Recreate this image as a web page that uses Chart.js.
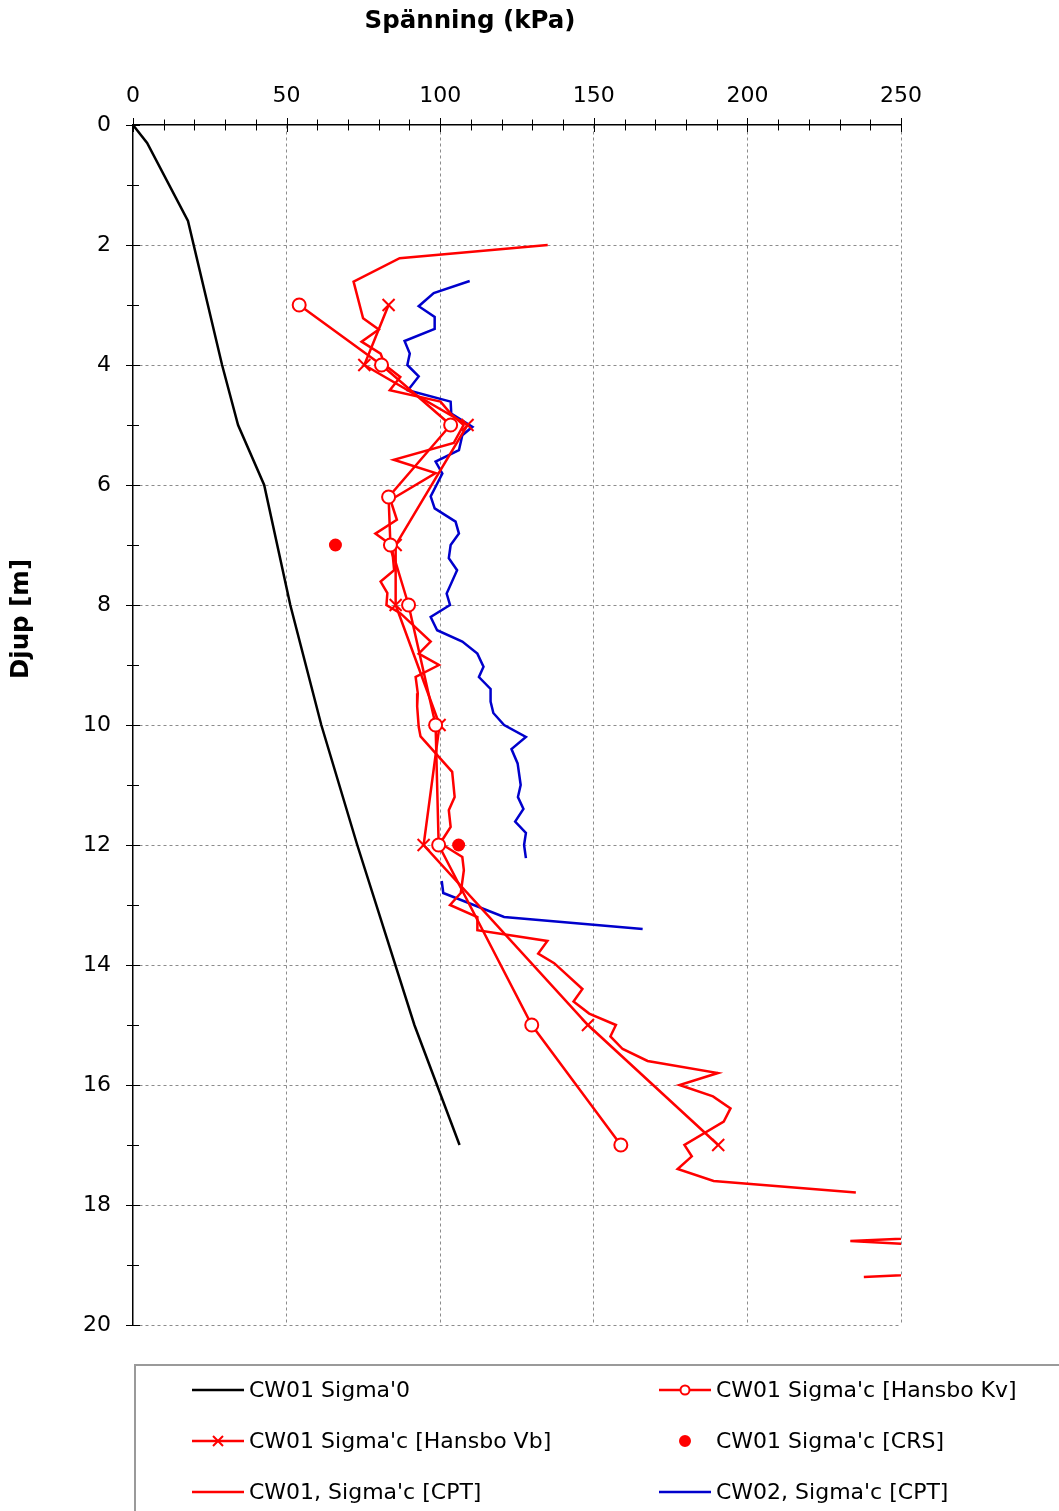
<!DOCTYPE html>
<html lang="sv">
<head>
    <meta charset="UTF-8">
    <title>Spänning mot djup</title>
    <script src="https://cdn.jsdelivr.net/npm/chart.js"></script>
    <style>
        body { margin: 0; background: #fff; }
        .wrap { width: 1059px; height: 1511px; position: relative; }
    </style>
</head>
<body>
    <div class="wrap"><canvas id="chart"></canvas></div>

    <script>
        // Skala / tick labels
        const xTicks = [0, 50, 100, 150, 200, 250];
        const yTicks = [0, 2, 4, 6, 8, 10, 12, 14, 16, 18, 20];

        // CW01 Sigma'0
        const sigma0Kpa = [0, 4.6, 17.9, 29, 34.2, 42.7, 51.2, 61.3, 73, 91.6, 106.3];
        const sigma0Djup = [0, 0.3, 1.6, 4, 5, 6, 8, 10, 12, 15, 17];

        // CW01 Sigma'c [Hansbo Kv]
        const kvKpa = [54.1, 80.9, 103.4, 83.2, 83.8, 89.7, 98.5, 99.5, 129.8, 158.8];
        const kvDjup = [3, 4, 5, 6.2, 7, 8, 10, 12, 15, 17];

        // CW01 Sigma'c [Hansbo Vb]
        const vbKpa = [83.2, 75.3, 108.9, 85.5, 85.5, 99.8, 94.6, 148.1, 190.5];
        const vbDjup = [3, 4, 5, 7, 8, 10, 12, 15, 17];

        // CW01 Sigma'c [CRS]
        const crsKpa = [80.9, 65.9, 106];
        const crsDjup = [4, 7, 12];

        // CW01, Sigma'c [CPT]  (null = avbrott)
        const cpt1Kpa = [135, 86.8, 71.8, 74.9, 80, 74.4, 80.6, 82, 87, 83.6, 100.1, 103.4, 107.6, 104.4, 84.9, 98.5,
            83.8, 85.9, 78.9, 83.5, 84.6, 85, 80.6, 82.8, 82.5, 87.1, 96.9, 93, 99.6, 92, 92.7, 92.5, 93, 93.6,
            103.9, 104.7, 102.8, 103.4, 100, 107.2, 107.7, 106.7, 103.2, 112.1, 112.1, 134.9, 131.9, 137.1, 146.3,
            143.4, 148.5, 157.2, 155.4, 159.4, 167.5, 190.4, 177.9, 188.8, 194.5, 192.3, 179.5, 181.9, 177.3, 189,
            235.3, null, 280, 233.5, 280, null, 237.9, 280];
        const cpt1Djup = [2.0, 2.22, 2.61, 3.22, 3.41, 3.61, 3.81, 4.0, 4.2, 4.42, 4.61, 4.81, 5.0, 5.3, 5.58, 5.8,
            6.25, 6.58, 6.81, 6.98, 7.2, 7.42, 7.61, 7.8, 8.0, 8.14, 8.61, 8.81, 9.0, 9.2, 9.47, 9.69, 10.03, 10.19,
            10.78, 11.2, 11.42, 11.7, 11.97, 12.2, 12.42, 12.8, 13.0, 13.2, 13.42, 13.6, 13.81, 13.97, 14.4,
            14.61, 14.81, 15.0, 15.19, 15.4, 15.6, 15.8, 16.0, 16.19, 16.39, 16.61, 17.0, 17.19, 17.4, 17.6,
            17.79, null, 18.5, 18.6, 18.73, null, 19.2, 19.1];

        // CW02, Sigma'c [CPT]
        const cpt2Kpa = [109.6, 97.9, 93, 98.2, 98.2, 88.4, 90.1, 89.3, 93, 89.5, 103.4, 103.6, 110.5, 107.2, 106.1,
            98.5, 100.7, 96.9, 98.2, 105, 106.1, 103.4, 102.8, 105.5, 102.1, 103.2, 96.9, 99, 107.2, 112.1, 114.1,
            112.6, 116.4, 116.4, 117.3, 120.8, 127.9, 123.2, 125.2, 126.2, 125.3, 127.1, 124.4, 127.9, 127.3, 127.9,
            null, 100.5, 101, 120.8, 165.9];
        const cpt2Djup = [2.6, 2.8, 3.02, 3.2, 3.4, 3.6, 3.81, 4.0, 4.19, 4.42, 4.61, 4.81, 5.03, 5.17, 5.42,
            5.61, 5.81, 6.19, 6.39, 6.61, 6.81, 7.0, 7.22, 7.42, 7.81, 8.0, 8.2, 8.42, 8.61, 8.81, 9.03,
            9.2, 9.4, 9.61, 9.8, 10.0, 10.2, 10.4, 10.64, 11.0, 11.2, 11.4, 11.61, 11.8, 12.0, 12.22,
            null, 12.6, 12.8, 13.2, 13.4];

        const RED = '#ff0000';
        const BLUE = '#0000cc';
        const LW = 2.5;

        function pts(xs, ys) {
            return xs.map((x, i) => ({ x: x, y: ys[i] }));
        }

        Chart.defaults.font.family = 'DejaVu Sans, Verdana, sans-serif';
        Chart.defaults.font.size = 22;
        Chart.defaults.color = '#000';

        // titlar, små tickmarkeringar och legend ritas här
        const extras = {
            id: 'extras',
            afterDraw(chart) {
                const ctx = chart.ctx;
                const xs = chart.scales.x, ys = chart.scales.y;
                const top = chart.chartArea.top, left = chart.chartArea.left;
                ctx.save();
                ctx.strokeStyle = '#000';
                ctx.lineWidth = 1;
                for (let v = 0; v <= 250; v += 10) {
                    const px = Math.round(xs.getPixelForValue(v)) + 0.5;
                    const h = v % 50 === 0 ? 7 : 5.5;
                    ctx.beginPath(); ctx.moveTo(px, top - h); ctx.lineTo(px, top + h); ctx.stroke();
                }
                for (let v = 0; v <= 20; v += 1) {
                    const py = Math.round(ys.getPixelForValue(v)) + 0.5;
                    const w = v % 2 === 0 ? 7 : 6;
                    ctx.beginPath(); ctx.moveTo(left - w, py); ctx.lineTo(left + w, py); ctx.stroke();
                }

                // axeltitlar
                ctx.fillStyle = '#000';
                ctx.font = 'bold 24.5px DejaVu Sans, Verdana, sans-serif';
                ctx.textAlign = 'center';
                ctx.textBaseline = 'middle';
                ctx.fillText('Spänning (kPa)', 470, 22);
                ctx.save();
                ctx.translate(22, 619);
                ctx.rotate(-Math.PI / 2);
                ctx.fillText('Djup [m]', 0, 0);
                ctx.restore();

                // legend
                ctx.strokeStyle = '#9a9a9a';
                ctx.lineWidth = 2;
                ctx.beginPath();
                ctx.moveTo(135, 1512); ctx.lineTo(135, 1365); ctx.lineTo(1060, 1365);
                ctx.stroke();

                const cols = [192, 659];
                const rows = [1390, 1441, 1492];
                ctx.font = '22px DejaVu Sans, Verdana, sans-serif';
                ctx.textAlign = 'left';
                chart.data.datasets.forEach((ds, i) => {
                    const x0 = cols[i % 2], y0 = rows[Math.floor(i / 2)];
                    const mid = x0 + 26;
                    ctx.strokeStyle = ds.borderColor;
                    ctx.lineWidth = 2.5;
                    if (ds.showLine !== false) {
                        ctx.beginPath(); ctx.moveTo(x0, y0); ctx.lineTo(x0 + 52, y0); ctx.stroke();
                    }
                    if (ds.pointStyle === 'circle' && ds.pointRadius > 0) {
                        ctx.beginPath();
                        ctx.arc(mid, y0, ds.showLine === false ? 5 : 4.5, 0, Math.PI * 2);
                        ctx.fillStyle = ds.pointBackgroundColor;
                        ctx.fill();
                        ctx.lineWidth = 2;
                        ctx.stroke();
                    } else if (ds.pointStyle === 'crossRot') {
                        ctx.lineWidth = 2;
                        ctx.beginPath();
                        ctx.moveTo(mid - 5, y0 - 5); ctx.lineTo(mid + 5, y0 + 5);
                        ctx.moveTo(mid + 5, y0 - 5); ctx.lineTo(mid - 5, y0 + 5);
                        ctx.stroke();
                    }
                    ctx.fillStyle = '#000';
                    ctx.fillText(ds.label, x0 + 57, y0 + 1);
                });
                ctx.restore();
            }
        };

        new Chart(document.getElementById('chart'), {
            type: 'scatter',
            data: {
                datasets: [
                    { label: "CW01 Sigma'0", data: pts(sigma0Kpa, sigma0Djup), showLine: true,
                      borderColor: '#000', borderWidth: LW, pointRadius: 0, pointStyle: 'line' },
                    { label: "CW01 Sigma'c [Hansbo Kv]", data: pts(kvKpa, kvDjup), showLine: true,
                      borderColor: RED, borderWidth: LW, pointStyle: 'circle', pointRadius: 6.5,
                      pointBorderWidth: 2, pointBorderColor: RED, pointBackgroundColor: '#fff' },
                    { label: "CW01 Sigma'c [Hansbo Vb]", data: pts(vbKpa, vbDjup), showLine: true,
                      borderColor: RED, borderWidth: LW, pointStyle: 'crossRot', pointRadius: 8.5,
                      pointBorderWidth: 2, pointBorderColor: RED },
                    { label: "CW01 Sigma'c [CRS]", data: pts(crsKpa, crsDjup), showLine: false,
                      borderColor: RED, pointStyle: 'circle', pointRadius: 6.5,
                      pointBorderWidth: 0, pointBackgroundColor: RED },
                    { label: "CW01, Sigma'c [CPT]", data: pts(cpt1Kpa, cpt1Djup), showLine: true,
                      borderColor: RED, borderWidth: LW, pointRadius: 0, pointStyle: 'line', clip: 0 },
                    { label: "CW02, Sigma'c [CPT]", data: pts(cpt2Kpa, cpt2Djup), showLine: true,
                      borderColor: BLUE, borderWidth: LW, pointRadius: 0, pointStyle: 'line', clip: 0 }
                ]
            },
            options: {
                responsive: true,
                maintainAspectRatio: false,
                animation: false,
                layout: { padding: { left: 0, top: 0, right: 158, bottom: 186 } },
                plugins: { legend: { display: false }, tooltip: { enabled: false } },
                scales: {
                    x: {
                        type: 'linear', position: 'top', min: 0, max: 250,
                        afterBuildTicks: s => { s.ticks = xTicks.map(v => ({ value: v })); },
                        afterFit: s => { s.height = 125; },
                        ticks: { padding: 16, color: '#000', font: { size: 22 } },
                        grid: { drawTicks: false, lineWidth: 1,
                                color: c => (c.tick && c.tick.value === 0) ? 'rgba(0,0,0,0)' : '#8c8c8c' },
                        border: { display: true, color: '#000', width: 1.5, dash: [3, 3] }
                    },
                    y: {
                        type: 'linear', min: 0, max: 20, reverse: true,
                        afterBuildTicks: s => { s.ticks = yTicks.map(v => ({ value: v })); },
                        afterFit: s => { s.width = 133; },
                        ticks: { padding: 22, color: '#000', font: { size: 22 } },
                        grid: { drawTicks: false, lineWidth: 1,
                                color: c => (c.tick && c.tick.value === 0) ? 'rgba(0,0,0,0)' : '#8c8c8c' },
                        border: { display: true, color: '#000', width: 1.5, dash: [3, 3] }
                    }
                }
            },
            plugins: [extras]
        });
    </script>
</body>
</html>
